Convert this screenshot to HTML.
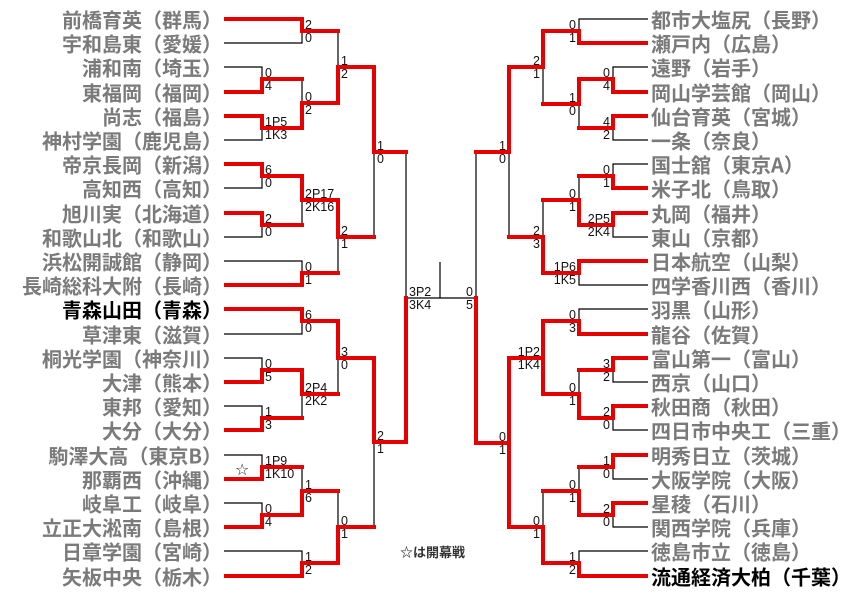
<!DOCTYPE html>
<html><head><meta charset="utf-8"><style>
html,body{margin:0;padding:0;background:#fff;width:859px;height:598px;overflow:hidden}
svg{display:block}
.n{font-family:"Noto Sans CJK JP","Liberation Sans",sans-serif;font-size:20px;font-weight:bold;fill:#7a7a7a}
.k{fill:#000}
.s{font-family:"Liberation Sans",sans-serif;font-size:12.5px;fill:#111}
.r{stroke:#e60000;stroke-width:4;fill:none;stroke-linejoin:miter;stroke-linecap:square}
.b{stroke:#000;stroke-width:1.2;fill:none}
</style></head><body>
<svg width="859" height="598" viewBox="0 0 859 598" xmlns="http://www.w3.org/2000/svg">
<g class="b">
<path d="M224 43H302V31M224 67H262V79M262 128V140H224M262 176V188H224M262 225V237H224M224 261H302V273M302 79V103M338 31V67M302 200V225M338 237V273M374 152V237M406 152V298H476M440 262V298M224 334H302V321M224 358H262V370M224 406H262V418M302 394V418M338 358V394M224 455H262V467M224 503H262V515M302 467V491M224 551H302V563M338 491V527M374 442V527M476 152V298"/>
<path d="M648 19H579V31M648 67H613V79M613 128V140H648M648 164H613V176M613 225V237H648M579 273V285H648M579 104V128M543 67V104M579 176V200M543 200V237M509 152V237M648 309H579V321M613 370V382H648M613 418V430H648M579 370V394M509 358V443M613 467V479H648M613 515V527H648M579 467V491M648 551H579V563M543 491V527"/>
</g>
<g class="r">
<path d="M226 19H302V31H338"/>
<path d="M226 92H262V79H302"/>
<path d="M226 116H262V128H302V103H338V67H374V152H406"/>
<path d="M226 164H262V176H302V200H338V237H374"/>
<path d="M226 213H262V225H302"/>
<path d="M226 285H302V273H338"/>
<path d="M226 309H302V321H338V358H374V442H406V298"/>
<path d="M226 382H262V370H302V394H338"/>
<path d="M226 430H262V418H302"/>
<path d="M226 479H262V467H302"/>
<path d="M226 527H262V515H302V491H338"/>
<path d="M226 576H302V563H338V527H374"/>
<path d="M646 43H579V31H543V67H509V152H476"/>
<path d="M646 92H613V79H579V104H543"/>
<path d="M646 116H613V128H579"/>
<path d="M646 188H613V176H579"/>
<path d="M646 213H613V225H579V200H543"/>
<path d="M646 261H579V273H543V237H509"/>
<path d="M646 334H579V321H543V394"/>
<path d="M543 358H509V443H476V298"/>
<path d="M646 358H613V370H579"/>
<path d="M646 406H613V418H579V394H543"/>
<path d="M646 455H613V467H579"/>
<path d="M646 503H613V515H579V491H543"/>
<path d="M646 576H579V563H543V527H509V443"/>
</g>
<g class="n" text-anchor="end" dominant-baseline="central">
<text x="222" y="19">前橋育英（群馬）</text>
<text x="222" y="43">宇和島東（愛媛）</text>
<text x="222" y="67">浦和南（埼玉）</text>
<text x="222" y="92">東福岡（福岡）</text>
<text x="222" y="116">尚志（福島）</text>
<text x="222" y="140">神村学園（鹿児島）</text>
<text x="222" y="164">帝京長岡（新潟）</text>
<text x="222" y="188">高知西（高知）</text>
<text x="222" y="213">旭川実（北海道）</text>
<text x="222" y="237">和歌山北（和歌山）</text>
<text x="222" y="261">浜松開誠館（静岡）</text>
<text x="222" y="285">長崎総科大附（長崎）</text>
<text x="222" y="309" class="n k">青森山田（青森）</text>
<text x="222" y="334">草津東（滋賀）</text>
<text x="222" y="358">桐光学園（神奈川）</text>
<text x="222" y="382">大津（熊本）</text>
<text x="222" y="406">東邦（愛知）</text>
<text x="222" y="430">大分（大分）</text>
<text x="222" y="455">駒澤大高（東京B）</text>
<text x="222" y="479">那覇西（沖縄）</text>
<text x="222" y="503">岐阜工（岐阜）</text>
<text x="222" y="527">立正大淞南（島根）</text>
<text x="222" y="551">日章学園（宮崎）</text>
<text x="222" y="576">矢板中央（栃木）</text>
</g>
<g class="n" dominant-baseline="central">
<text x="651" y="19">都市大塩尻（長野）</text>
<text x="651" y="43">瀬戸内（広島）</text>
<text x="651" y="67">遠野（岩手）</text>
<text x="651" y="92">岡山学芸館（岡山）</text>
<text x="651" y="116">仙台育英（宮城）</text>
<text x="651" y="140">一条（奈良）</text>
<text x="651" y="164">国士舘（東京A）</text>
<text x="651" y="188">米子北（鳥取）</text>
<text x="651" y="213">丸岡（福井）</text>
<text x="651" y="237">東山（京都）</text>
<text x="651" y="261">日本航空（山梨）</text>
<text x="651" y="285">四学香川西（香川）</text>
<text x="651" y="309">羽黒（山形）</text>
<text x="651" y="334">龍谷（佐賀）</text>
<text x="651" y="358">富山第一（富山）</text>
<text x="651" y="382">西京（山口）</text>
<text x="651" y="406">秋田商（秋田）</text>
<text x="651" y="430">四日市中央工（三重）</text>
<text x="651" y="455">明秀日立（茨城）</text>
<text x="651" y="479">大阪学院（大阪）</text>
<text x="651" y="503">星稜（石川）</text>
<text x="651" y="527">関西学院（兵庫）</text>
<text x="651" y="551">徳島市立（徳島）</text>
<text x="651" y="576" class="n k">流通経済大柏（千葉）</text>
</g>
<g class="s">
<text x="305" y="29">2</text><text x="305" y="42">0</text>
<text x="265" y="77">0</text><text x="265" y="90">4</text>
<text x="265" y="126">1P5</text><text x="265" y="139">1K3</text>
<text x="305" y="101">0</text><text x="305" y="114">2</text>
<text x="341" y="65">1</text><text x="341" y="78">2</text>
<text x="265" y="174">6</text><text x="265" y="187">0</text>
<text x="265" y="223">2</text><text x="265" y="236">0</text>
<text x="305" y="198">2P17</text><text x="305" y="211">2K16</text>
<text x="305" y="271">0</text><text x="305" y="284">1</text>
<text x="341" y="235">2</text><text x="341" y="248">1</text>
<text x="377" y="150">1</text><text x="377" y="163">0</text>
<text x="305" y="319">6</text><text x="305" y="332">0</text>
<text x="265" y="368">0</text><text x="265" y="381">5</text>
<text x="265" y="416">1</text><text x="265" y="429">3</text>
<text x="305" y="392">2P4</text><text x="305" y="405">2K2</text>
<text x="341" y="356">3</text><text x="341" y="369">0</text>
<text x="265" y="465">1P9</text><text x="265" y="478">1K10</text>
<text x="265" y="513">0</text><text x="265" y="526">4</text>
<text x="305" y="489">1</text><text x="305" y="502">6</text>
<text x="305" y="561">1</text><text x="305" y="574">2</text>
<text x="341" y="525">0</text><text x="341" y="538">1</text>
<text x="377" y="440">2</text><text x="377" y="453">1</text>
<text x="409" y="296">3P2</text><text x="409" y="309">3K4</text>
</g>
<g class="s" text-anchor="end">
<text x="576" y="29">0</text><text x="576" y="42">1</text>
<text x="610" y="77">0</text><text x="610" y="90">4</text>
<text x="610" y="126">4</text><text x="610" y="139">2</text>
<text x="576" y="102">1</text><text x="576" y="115">0</text>
<text x="540" y="65">2</text><text x="540" y="78">1</text>
<text x="610" y="174">0</text><text x="610" y="187">1</text>
<text x="610" y="223">2P5</text><text x="610" y="236">2K4</text>
<text x="576" y="198">0</text><text x="576" y="211">1</text>
<text x="576" y="271">1P6</text><text x="576" y="284">1K5</text>
<text x="540" y="235">2</text><text x="540" y="248">3</text>
<text x="506" y="150">1</text><text x="506" y="163">0</text>
<text x="473" y="296">0</text><text x="473" y="309">5</text>
<text x="576" y="319">0</text><text x="576" y="332">3</text>
<text x="610" y="368">3</text><text x="610" y="381">2</text>
<text x="610" y="416">2</text><text x="610" y="429">0</text>
<text x="576" y="392">0</text><text x="576" y="405">1</text>
<text x="540" y="356">1P2</text><text x="540" y="369">1K4</text>
<text x="506" y="441">0</text><text x="506" y="454">1</text>
<text x="610" y="465">1</text><text x="610" y="478">0</text>
<text x="610" y="513">2</text><text x="610" y="526">0</text>
<text x="576" y="489">0</text><text x="576" y="502">1</text>
<text x="576" y="561">1</text><text x="576" y="574">2</text>
<text x="540" y="525">0</text><text x="540" y="538">1</text>
</g>
<text x="235" y="475" style="font-family:'DejaVu Sans',sans-serif;font-size:16px;fill:#222">☆</text>
<text x="400" y="557" style="font-family:'Liberation Sans','Noto Sans CJK JP',sans-serif;font-size:13px;font-weight:bold;fill:#333">☆は開幕戦</text>
</svg>
</body></html>
